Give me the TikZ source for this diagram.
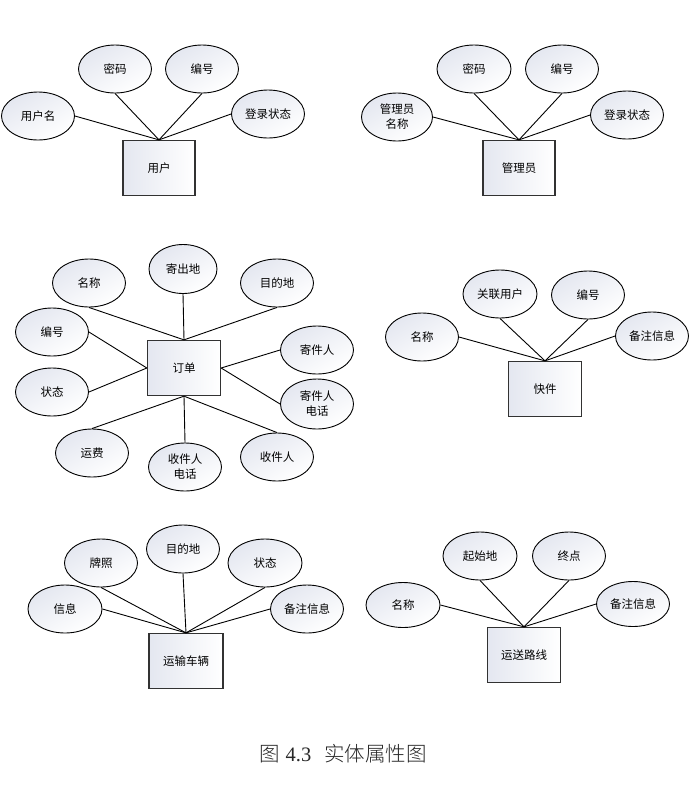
\documentclass[tikz,border=0pt]{standalone}
\usepackage{fontspec}
\setmainfont{Liberation Serif}
\newfontfamily\cjk{Noto Sans CJK SC}
\newfontfamily\cjklight{Noto Sans CJK SC Light}
\usetikzlibrary{shapes.geometric}
\definecolor{fillg}{RGB}{228,231,240}
\definecolor{boxline}{RGB}{50,50,50}
\definecolor{captext}{RGB}{40,40,40}
\tikzset{
  attr/.style={ellipse, draw=black, line width=0.9pt, minimum width=73pt, minimum height=48pt,
    inner sep=0pt, align=center, left color=fillg, right color=white, shading angle=30,
    font=\cjk\fontsize{11.5}{15}\selectfont},
  ent/.style={rectangle, draw=boxline, line width=1.3pt, minimum width=72pt, minimum height=55pt,
    inner sep=0pt, left color=fillg, right color=white,
    font=\cjk\fontsize{11.5}{15}\selectfont},
  link/.style={draw=black, line width=0.9pt}
}
\begin{document}
\begin{tikzpicture}[x=1pt,y=-1pt]
\useasboundingbox[fill=white] (0,0) rectangle (699,788);

% ---------- 用户 ----------
\node[ent] (U) at (159,168) {用户};
\node[attr] (u1) at (38,116) {用户名};
\node[attr] (u2) at (115,69) {密码};
\node[attr] (u3) at (202,69) {编号};
\node[attr] (u4) at (268,114) {登录状态};
\draw[link] (u1.east) -- (U.north);
\draw[link] (u2.south) -- (U.north);
\draw[link] (u3.south) -- (U.north);
\draw[link] (u4.west) -- (U.north);

% ---------- 管理员 ----------
\node[ent] (A) at (519,168) {管理员};
\node[attr, minimum width=71pt] (a1) at (397,117) {管理员\\名称};
\node[attr, minimum width=74pt] (a2) at (474,69) {密码};
\node[attr] (a3) at (562,69) {编号};
\node[attr] (a4) at (627,115) {登录状态};
\draw[link] (a1.east) -- (A.north);
\draw[link] (a2.south) -- (A.north);
\draw[link] (a3.south) -- (A.north);
\draw[link] (a4.west) -- (A.north);

% ---------- 订单 ----------
\node[ent, minimum width=73pt] (O) at (184,368) {订单};
\node[attr, minimum width=68pt, minimum height=49pt] (o1) at (183,269) {寄出地};
\node[attr] (o2) at (89,283) {名称};
\node[attr] (o3) at (277,283) {目的地};
\node[attr] (o4) at (52,332) {编号};
\node[attr] (o5) at (52,392) {状态};
\node[attr] (o6) at (317,350) {寄件人};
\node[attr, minimum height=50pt] (o7) at (317,404) {寄件人\\电话};
\node[attr] (o8) at (92,453) {运费};
\node[attr] (o9) at (185,467) {收件人\\电话};
\node[attr] (o10) at (277,457) {收件人};
\draw[link] (o1.south) -- (O.north);
\draw[link] (o2.south) -- (O.north);
\draw[link] (o3.south) -- (O.north);
\draw[link] (o4.east) -- (O.west);
\draw[link] (o5.east) -- (O.west);
\draw[link] (o6.west) -- (O.east);
\draw[link] (o7.west) -- (O.east);
\draw[link] (o8.north) -- (O.south);
\draw[link] (o9.north) -- (O.south);
\draw[link] (o10.north) -- (O.south);

% ---------- 快件 ----------
\node[ent, minimum width=73pt] (K) at (545,389) {快件};
\node[attr] (k1) at (422,337) {名称};
\node[attr, minimum width=74pt] (k2) at (500,294) {关联用户};
\node[attr] (k3) at (588,295) {编号};
\node[attr] (k4) at (652,336) {备注信息};
\draw[link] (k1.east) -- (K.north);
\draw[link] (k2.south) -- (K.north);
\draw[link] (k3.south) -- (K.north);
\draw[link] (k4.west) -- (K.north);

% ---------- 运输车辆 ----------
\node[ent, minimum width=74pt] (V) at (186,661) {运输车辆};
\node[attr, minimum width=74pt] (v1) at (65,609) {信息};
\node[attr] (v2) at (101,563) {牌照};
\node[attr] (v3) at (183,549) {目的地};
\node[attr, minimum width=74pt] (v4) at (265,563) {状态};
\node[attr] (v5) at (307,609) {备注信息};
\draw[link] (v1.east) -- (V.north);
\draw[link] (v2.south) -- (V.north);
\draw[link] (v3.south) -- (V.north);
\draw[link] (v4.south) -- (V.north);
\draw[link] (v5.west) -- (V.north);

% ---------- 运送路线 ----------
\node[ent, minimum width=73pt] (R) at (524,655) {运送路线};
\node[attr, minimum width=74pt, minimum height=45pt] (r1) at (403,605) {名称};
\node[attr, minimum width=74pt] (r2) at (480,556) {起始地};
\node[attr] (r3) at (569,556) {终点};
\node[attr, minimum height=45pt] (r4) at (633,604) {备注信息};
\draw[link] (r1.east) -- (R.north);
\draw[link] (r2.south) -- (R.north);
\draw[link] (r3.south) -- (R.north);
\draw[link] (r4.west) -- (R.north);

% ---------- caption ----------
\node[font=\fontsize{20.5}{24}\selectfont, text=captext, inner sep=0pt] (cap) at (343,754)
  {{\cjklight 图}\hspace{6pt}4.3\hspace{13pt}{\cjklight 实体属性图}};
\end{tikzpicture}
\end{document}
